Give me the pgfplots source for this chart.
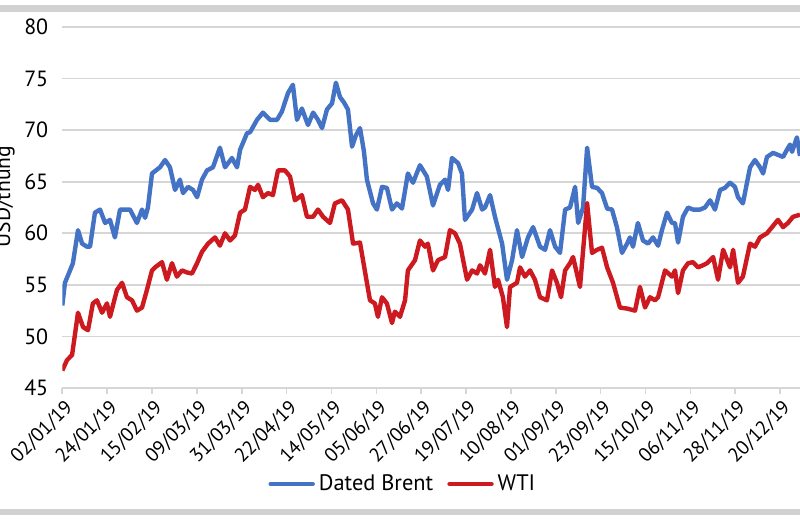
\documentclass[border=0pt]{standalone}
\usepackage{fontspec}
\setmainfont{PT Sans}
\usepackage{pgfplots}
\pgfplotsset{compat=1.18}
\definecolor{brent}{RGB}{68,114,196}
\definecolor{wti}{RGB}{204,26,32}
\definecolor{gridc}{RGB}{214,214,214}
\definecolor{barc}{RGB}{210,210,210}

\pgfplotstableread{
day val
0 53.0
1.3 55.2
3.8 56.4
5.2 57.1
7.7 60.3
9.7 59.0
12.1 58.7
13.6 58.7
16.0 62.0
18.5 62.3
21.0 61.0
23.4 61.3
25.8 59.6
28.3 62.3
33.2 62.3
36.6 61.0
39.1 62.3
40.6 61.5
42.0 62.5
44.0 65.8
47.9 66.4
50.4 67.1
52.8 66.4
55.3 64.2
57.7 65.2
59.2 63.9
61.7 64.5
64.1 64.2
66.1 63.5
68.5 65.2
71.0 66.1
73.9 66.4
77.3 68.3
79.8 66.4
83.2 67.3
85.7 66.4
87.2 68.1
90.6 69.7
92.1 69.8
95.5 71.0
98.4 71.7
101.9 71.0
105.3 71.0
107.7 71.8
110.7 73.6
113.1 74.4
115.1 71.0
117.5 72.1
119.0 71.3
120.5 70.5
123.0 71.7
125.4 71.0
127.4 70.2
129.8 72.0
132.3 72.6
134.2 74.6
136.2 73.2
138.1 72.7
140.1 72.0
142.1 68.4
144.0 69.5
146.0 70.2
147.9 68.0
149.4 65.2
152.4 62.9
154.3 62.3
156.8 64.5
159.2 64.4
161.7 62.3
164.1 62.9
166.6 62.4
169.5 65.8
172.0 64.9
175.4 66.6
178.8 65.5
181.8 62.7
185.2 64.7
187.7 65.2
189.2 64.2
191.1 67.3
194.1 66.8
196.0 65.8
197.5 61.3
201.0 62.3
203.4 63.9
205.9 62.3
207.3 62.5
209.8 63.7
212.2 61.6
215.7 59.0
218.1 55.5
220.6 57.4
223.0 60.3
225.5 57.7
228.4 59.6
230.9 60.6
234.3 58.7
236.8 58.4
239.2 60.3
241.7 58.7
244.1 58.1
246.6 62.3
249.0 62.5
251.5 64.5
253.0 61.0
255.4 62.5
257.4 68.3
259.8 64.5
262.3 64.4
264.7 63.9
267.2 62.4
269.6 62.3
272.0 60.6
274.5 58.1
277.0 59.0
278.4 59.6
279.9 58.7
282.3 61.0
284.8 59.3
287.3 59.0
289.7 59.6
292.2 58.8
294.1 60.3
296.6 62.0
299.0 61.0
300.5 61.0
302.0 59.1
304.4 61.6
306.9 62.5
309.3 62.3
312.8 62.3
315.2 62.5
317.7 63.2
320.1 62.3
322.6 64.2
325.0 64.4
327.5 64.9
329.9 64.5
331.4 63.5
333.8 62.9
337.3 66.4
339.7 67.1
342.2 66.4
343.7 65.8
345.6 67.4
348.6 67.8
351.0 67.6
353.5 67.4
355.4 68.1
356.9 68.6
357.9 67.9
360.3 69.3
361.8 67.5
}\brenttable

\pgfplotstableread{
day val
0 46.7
2.3 47.7
4.8 48.2
7.7 52.3
10.2 50.9
12.6 50.6
15.0 53.2
17.0 53.5
19.5 52.3
21.9 53.2
23.4 51.9
26.8 54.5
29.3 55.2
31.7 53.8
34.2 53.5
36.6 52.5
39.1 52.8
41.5 54.5
44.0 56.4
45.5 56.7
48.9 57.2
51.3 55.5
53.8 57.1
56.2 55.8
58.7 56.4
61.2 56.2
63.6 56.1
66.1 57.1
68.5 58.2
71.5 59.0
74.9 59.6
77.3 58.8
79.8 60.0
82.3 59.3
84.7 59.8
87.2 62.0
89.6 62.3
92.1 64.5
94.5 64.2
96.0 64.7
98.4 63.5
100.9 63.9
103.3 63.7
105.8 66.1
109.2 66.1
111.7 65.5
114.1 63.2
117.5 63.7
120.0 61.6
123.0 61.6
125.4 62.3
127.9 61.6
131.3 61.0
133.7 62.9
137.2 63.2
140.1 62.3
142.6 59.0
146.0 59.1
149.4 55.2
150.9 53.5
153.3 53.2
154.8 51.9
156.8 53.8
159.2 53.2
161.7 51.3
163.1 52.4
165.6 51.9
168.1 53.5
169.5 56.4
173.0 57.4
175.4 59.3
177.9 58.7
179.3 59.0
181.8 56.4
184.3 57.4
187.7 57.7
190.1 60.3
192.6 60.0
195.0 59.0
198.5 55.5
201.0 56.4
203.4 56.1
204.9 56.9
207.3 56.1
209.8 58.4
212.2 54.8
213.7 55.5
216.1 53.8
218.1 50.9
219.6 54.8
223.0 55.2
224.5 56.7
226.9 55.8
229.4 56.4
231.8 55.5
234.3 53.8
237.7 53.5
240.2 56.4
242.6 55.2
244.6 53.8
246.6 56.4
249.0 57.1
250.5 57.7
253.9 54.8
257.4 62.9
259.8 58.1
262.3 58.4
264.7 58.6
267.2 56.7
270.1 55.2
273.5 52.8
277.0 52.7
280.9 52.5
283.3 54.8
285.8 52.8
288.2 53.8
290.7 53.5
292.2 53.8
295.6 56.4
299.0 55.8
300.5 56.4
302.0 54.2
304.4 56.4
306.9 57.1
309.3 57.2
311.8 56.7
314.2 56.9
316.2 57.1
319.2 57.7
321.6 55.5
324.1 58.4
327.5 56.7
329.0 58.4
331.4 55.2
333.8 55.8
337.3 59.0
339.7 58.7
342.2 59.6
345.6 60.0
348.1 60.6
351.0 61.3
353.5 60.6
355.9 61.0
358.4 61.6
361.8 61.8
}\wtitable

\begin{document}
\begin{tikzpicture}
\path[use as bounding box, clip] (-31.15pt,-66pt) rectangle (368.85pt,194pt);
\fill[white] (-31.15pt,-66pt) rectangle (368.85pt,194pt);
\fill[barc] (-31.15pt,188pt) rectangle (368.85pt,191.5pt);
\fill[barc] (-31.15pt,-63.5pt) rectangle (368.85pt,-60.3pt);
\begin{axis}[
  at={(0pt,0pt)}, anchor=south west,
  scale only axis, width=368.85pt, height=180.5pt,
  xmin=0, xmax=361.8, ymin=45, ymax=80,
  ytick={45,50,...,80},
  xtick={0,22,...,352},
  xticklabels={02/01/19,24/01/19,15/02/19,09/03/19,31/03/19,22/04/19,14/05/19,05/06/19,27/06/19,19/07/19,10/08/19,01/09/19,23/09/19,15/10/19,06/11/19,28/11/19,20/12/19},
  axis x line*=bottom, axis y line*=left,
  x axis line style={draw=gridc, line width=0.8pt, -},
  y axis line style={draw=none},
  ymajorgrids, grid style={draw=gridc, line width=0.8pt},
  xtick style={draw=gridc, line width=0.8pt},
  ytick style={draw=none},
  tick align=outside, major tick length=3pt,
  /pgf/number format/assume math mode=true,
  tick label style={text=black},
  yticklabel style={font=\fontsize{11}{13}\selectfont, xshift=-0.5pt},
  xticklabel style={font=\fontsize{9.8}{12}\selectfont, rotate=45, anchor=north east, inner sep=1pt, yshift=-1pt},
  ylabel={USD/thùng},
  ylabel style={at={(axis description cs:-0.078,0.53)}, anchor=center, font=\fontsize{10.8}{12}\selectfont},
  legend style={at={(axis description cs:0.463,-0.266)}, anchor=center, draw=none, fill=none,
    legend columns=2, font=\fontsize{11.2}{13}\selectfont,
    /tikz/every even column/.append style={column sep=5pt}},
  legend image code/.code={\draw[#1, line cap=round] (0pt,0pt) -- (21pt,0pt);},
]
\addplot[brent, line width=2.2pt, line join=round] table[x=day, y=val] {\brenttable};
\addlegendentry{Dated Brent}
\addplot[wti, line width=2.2pt, line join=round] table[x=day, y=val] {\wtitable};
\addlegendentry{WTI}
\end{axis}
\end{tikzpicture}
\end{document}
